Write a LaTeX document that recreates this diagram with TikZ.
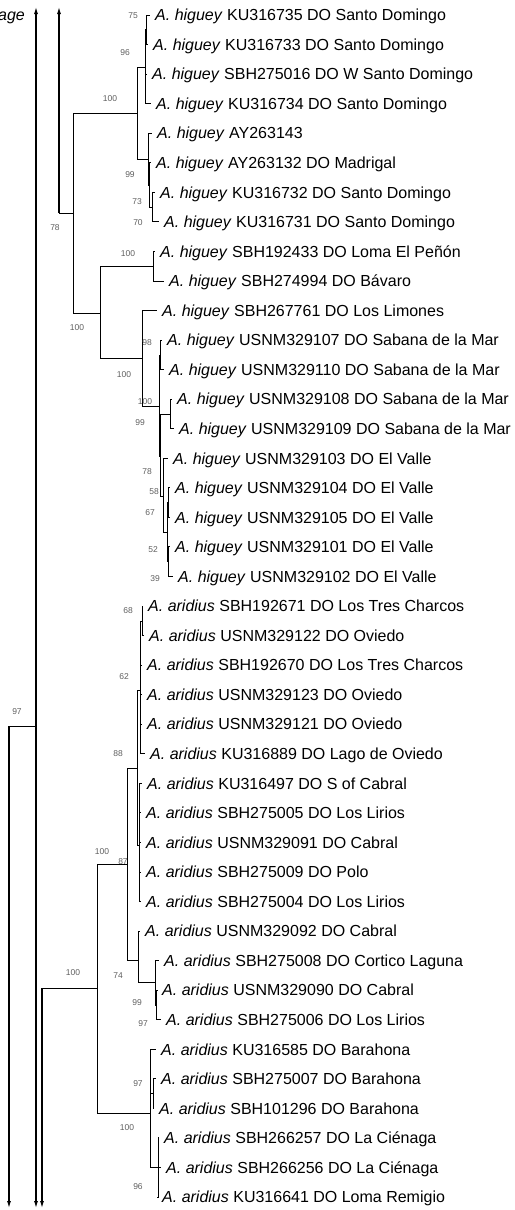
\documentclass[tikz,border=0pt]{standalone}
\usepackage{fontspec}
\setmainfont{Liberation Sans}
\usetikzlibrary{arrows.meta,positioning}
\definecolor{bsgray}{RGB}{95,95,95}
\tikzset{
  branch/.style={line width=0.9pt},
  leaf/.style={anchor=west, inner sep=0pt, text height=11.5pt, text depth=0pt, font=\fontsize{16}{19}\selectfont},
  bs/.style={inner sep=0pt, text=bsgray, font=\fontsize{8.5}{10}\selectfont},
  lineage/.style={line width=1.1pt, -{Latex[length=7pt,width=4pt]}},
  lineageboth/.style={line width=1.1pt, {Latex[length=7pt,width=4pt]}-{Latex[length=7pt,width=4pt]}}
}
\begin{document}
\begin{tikzpicture}[x=1pt,y=-1pt]
\useasboundingbox (0,0) rectangle (514,1210);
\node[leaf, anchor=east, font=\fontsize{16}{19}\selectfont\itshape] (lin) at (25,15) {age};
\foreach \i/\tx/\sp/\txt in {
 1/150/higuey/KU316735 DO Santo Domingo,
 2/148/higuey/KU316733 DO Santo Domingo,
 3/147/higuey/SBH275016 DO W Santo Domingo,
 4/151/higuey/KU316734 DO Santo Domingo,
 5/152/higuey/AY263143,
 6/151/higuey/AY263132 DO Madrigal,
 7/155/higuey/KU316732 DO Santo Domingo,
 8/159/higuey/KU316731 DO Santo Domingo,
 9/155/higuey/SBH192433 DO Loma El Peñón,
 10/164/higuey/SBH274994 DO Bávaro,
 11/157/higuey/SBH267761 DO Los Limones,
 12/162/higuey/USNM329107 DO Sabana de la Mar,
 13/164/higuey/USNM329110 DO Sabana de la Mar,
 14/172/higuey/USNM329108 DO Sabana de la Mar,
 15/174/higuey/USNM329109 DO Sabana de la Mar,
 16/168/higuey/USNM329103 DO El Valle,
 17/170/higuey/USNM329104 DO El Valle,
 18/170/higuey/USNM329105 DO El Valle,
 19/170/higuey/USNM329101 DO El Valle,
 20/173/higuey/USNM329102 DO El Valle,
 21/143/aridius/SBH192671 DO Los Tres Charcos,
 22/144/aridius/USNM329122 DO Oviedo,
 23/142/aridius/SBH192670 DO Los Tres Charcos,
 24/142/aridius/USNM329123 DO Oviedo,
 25/142/aridius/USNM329121 DO Oviedo,
 26/145/aridius/KU316889 DO Lago de Oviedo,
 27/142/aridius/KU316497 DO S of Cabral,
 28/141/aridius/SBH275005 DO Los Lirios,
 29/141/aridius/USNM329091 DO Cabral,
 30/141/aridius/SBH275009 DO Polo,
 31/141/aridius/SBH275004 DO Los Lirios,
 32/140/aridius/USNM329092 DO Cabral,
 33/159/aridius/SBH275008 DO Cortico Laguna,
 34/157/aridius/USNM329090 DO Cabral,
 35/161/aridius/SBH275006 DO Los Lirios,
 36/156/aridius/KU316585 DO Barahona,
 37/156/aridius/SBH275007 DO Barahona,
 38/154/aridius/SBH101296 DO Barahona,
 39/159/aridius/SBH266257 DO La Ciénaga,
 40/161/aridius/SBH266256 DO La Ciénaga,
 41/157/aridius/KU316641 DO Loma Remigio}{
 \coordinate (t\i) at (\tx,{15+(\i-1)*29.55});
 \node[leaf, right=5pt of t\i] (l\i) {\textit{A. \sp} \txt};
}
\foreach \n/\x/\y in {n78/73/213, n100a/137/113, n96/145/67, n75/146/29.8, n99a/148/159,
 n73/149.5/185, n70/152/207, n100d/100/313, n100c/153/266, n100f/142/358, n99c/159/406,
 n98/160.5/355, n78b/160/456, n100g/170/414, n67/163/496, n52/167/532, n58/168.5/502.5,
 n39/168.5/561.5, n97r/97/988, n100b/127/864, n88/137/768, n62/140.5/690, n68/142/621,
 n87/139/845, n74/138/960, n99b/155/982, n97c/156.5/1005, n100e/150/1113, n97d/153/1093.5,
 n96b/158/1167.5}
 \coordinate (\n) at (\x,\y);
\foreach \p/\c in {n78/n100a, n78/n100d, n100a/n96, n100a/n99a, n96/n75, n96/t3, n96/t4,
 n75/t1, n75/t2, n99a/t5, n99a/n73, n73/t6, n73/n70, n70/t7, n70/t8, n100d/n100c,
 n100d/n100f, n100c/t9, n100c/t10, n100f/t11, n100f/n99c, n99c/n98, n99c/n78b, n98/t12,
 n98/t13, n78b/n100g, n78b/n67, n100g/t14, n100g/t15, n67/t16, n67/n52, n52/n58, n52/n39,
 n58/t17, n58/t18, n39/t19, n39/t20,
 n97r/n100b, n97r/n100e, n100b/n88, n100b/n74, n88/n62, n88/n87, n62/n68, n62/t23, n62/t24,
 n62/t25, n62/t26, n68/t21, n68/t22, n87/t27, n87/t28, n87/t29, n87/t30, n87/t31, n74/t32,
 n74/n99b, n99b/t33, n99b/n97c, n97c/t34, n97c/t35, n100e/t36, n100e/n97d, n100e/n96b,
 n97d/t37, n97d/t38, n96b/t39, n96b/t40, n96b/t41}
 \draw[branch] (\p) |- (\c);
\coordinate (c59) at (59,213); \coordinate (top59) at (59,7);
\coordinate (top36) at (36,7); \coordinate (bot36) at (36,1208);
\coordinate (j36) at (36,726); \coordinate (c9) at (9,726); \coordinate (bot9) at (9,1208);
\coordinate (c42) at (42,988); \coordinate (bot42) at (42,1208);
\draw[branch] (c59) -- (n78);
\draw[lineage] (c59) -- (top59);
\draw[lineageboth] (top36) -- (bot36);
\draw[branch] (j36) -- (c9);
\draw[lineage] (c9) -- (bot9);
\draw[branch] (c42) -- (n97r);
\draw[lineage] (c42) -- (bot42);
\foreach \t/\x/\y [count=\k] in {75/133/16, 96/125/53, 100/110/99, 99/130/175, 73/137/202,
 70/138/223, 78/55/228, 100/77/328, 100/128/254, 100/124/375, 98/147/343, 100/145/402,
 99/140/423, 78/147/472, 58/154/492, 67/150/513, 52/153/550, 39/155/579,
 68/128/611, 62/124/677, 88/118/754, 87/123/862, 100/102/852, 100/73/973, 74/118/976,
 99/137/1003, 97/143/1024, 97/138/1084, 100/127/1128, 96/138/1187, 97/17/712}
 \node[bs] (bs\k) at (\x,\y) {\t};
\end{tikzpicture}
\end{document}
